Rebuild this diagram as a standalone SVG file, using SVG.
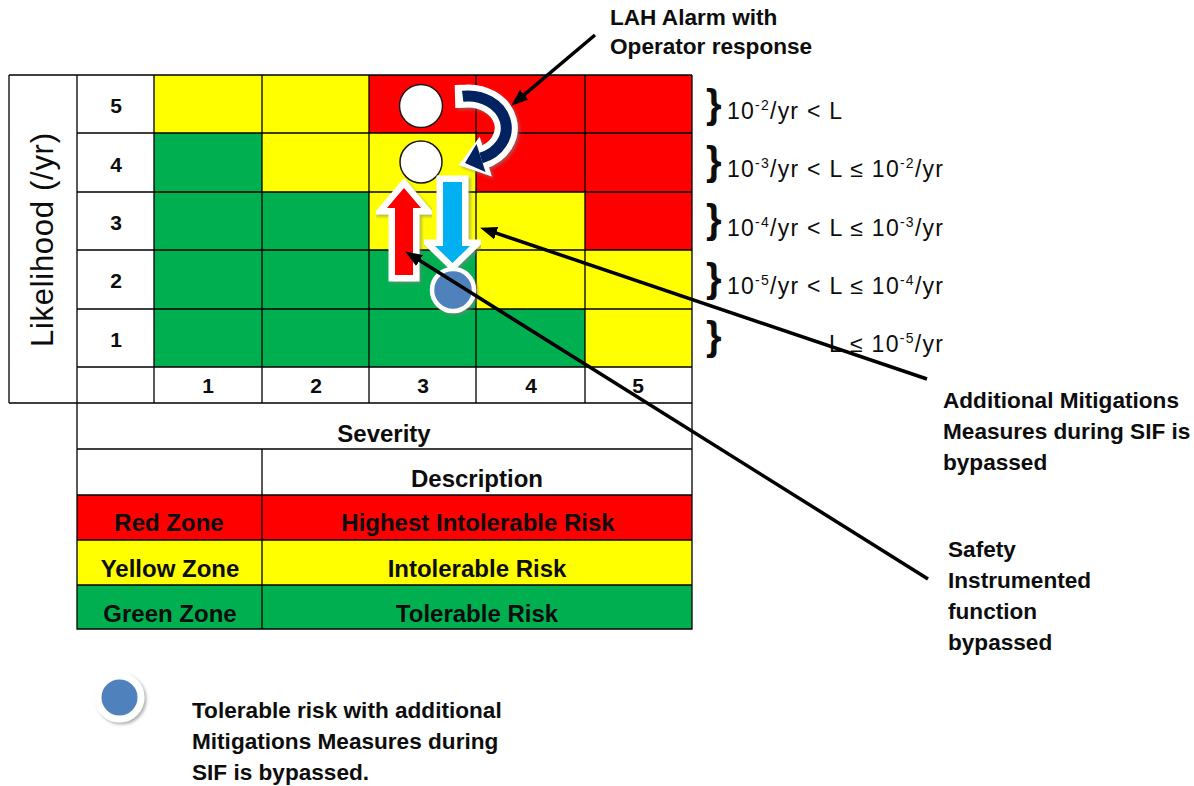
<svg xmlns="http://www.w3.org/2000/svg" width="1194" height="786" viewBox="0 0 1194 786">
<style>
.r{fill:#FF0000}.y{fill:#FFFF00}.g{fill:#00B050}
.ln{stroke:#000;stroke-width:1.3;fill:none}
.t{font-family:"Liberation Sans",Arial,sans-serif;fill:#0d0d0d}
.b{font-weight:bold}
.c{text-anchor:middle}
.num{font-family:"Liberation Sans",Arial,sans-serif;font-weight:bold;font-size:21px;text-anchor:middle;fill:#0d0d0d}
.tb{font-family:"Liberation Sans",Arial,sans-serif;font-weight:bold;font-size:24px;text-anchor:middle;fill:#0d0d0d}
.lab{font-family:"Liberation Sans",Arial,sans-serif;font-weight:bold;font-size:22.6px;fill:#0d0d0d}
.rl{font-family:"Liberation Sans",Arial,sans-serif;font-size:23px;fill:#0d0d0d}
.br{font-family:"Liberation Sans",Arial,sans-serif;font-size:40px;font-weight:bold;fill:#0d0d0d}
.leader{stroke:#000;stroke-width:3.5;fill:none;marker-end:url(#ah)}
.wo{stroke:#fff;stroke-width:13;stroke-linejoin:miter;stroke-miterlimit:10}
</style>
<defs>
<marker id="ah" markerUnits="userSpaceOnUse" markerWidth="17" markerHeight="13" refX="6" refY="6.5" orient="auto">
<path d="M0,0 L17,6.5 L0,13 z" fill="#000"/>
</marker>
<filter id="sh" x="-30%" y="-30%" width="160%" height="160%">
<feDropShadow dx="2" dy="2" stdDeviation="1.5" flood-color="#7f7f7f" flood-opacity="0.6"/>
</filter>
</defs>
<rect width="1194" height="786" fill="#fff"/>

<g id="risk-matrix">
<rect x="154" y="75" width="108" height="58" class="y"/>
<rect x="262" y="75" width="107" height="58" class="y"/>
<rect x="369" y="75" width="107" height="58" class="r"/>
<rect x="476" y="75" width="109" height="58" class="r"/>
<rect x="585" y="75" width="107" height="58" class="r"/>
<rect x="154" y="133" width="108" height="59" class="g"/>
<rect x="262" y="133" width="107" height="59" class="y"/>
<rect x="369" y="133" width="107" height="59" class="y"/>
<rect x="476" y="133" width="109" height="59" class="r"/>
<rect x="585" y="133" width="107" height="59" class="r"/>
<rect x="154" y="192" width="108" height="58" class="g"/>
<rect x="262" y="192" width="107" height="58" class="g"/>
<rect x="369" y="192" width="107" height="58" class="y"/>
<rect x="476" y="192" width="109" height="58" class="y"/>
<rect x="585" y="192" width="107" height="58" class="r"/>
<rect x="154" y="250" width="108" height="59" class="g"/>
<rect x="262" y="250" width="107" height="59" class="g"/>
<rect x="369" y="250" width="107" height="59" class="g"/>
<rect x="476" y="250" width="109" height="59" class="y"/>
<rect x="585" y="250" width="107" height="59" class="y"/>
<rect x="154" y="309" width="108" height="58" class="g"/>
<rect x="262" y="309" width="107" height="58" class="g"/>
<rect x="369" y="309" width="107" height="58" class="g"/>
<rect x="476" y="309" width="109" height="58" class="g"/>
<rect x="585" y="309" width="107" height="58" class="y"/>
<path class="ln" d="M9,75 H692 M77,133 H692 M77,192 H692 M77,250 H692 M77,309 H692 M77,367 H692 M9,403 H692 M9,75 V403 M77,75 V403 M154,75 V403 M262,75 V403 M369,75 V403 M476,75 V403 M585,75 V403 M692,75 V403"/>
<text class="num" x="116" y="113">5</text>
<text class="num" x="116" y="172">4</text>
<text class="num" x="116" y="230">3</text>
<text class="num" x="116" y="288">2</text>
<text class="num" x="116" y="347">1</text>
<text class="num" x="208" y="393">1</text>
<text class="num" x="316" y="393">2</text>
<text class="num" x="423" y="393">3</text>
<text class="num" x="531" y="393">4</text>
<text class="num" x="638" y="393">5</text>
<text class="t c" font-size="31" transform="translate(53,240) rotate(-90)" textLength="214">Likelihood (/yr)</text>
</g>

<g id="legend-table">
<rect x="77" y="495" width="615" height="45" class="r"/>
<rect x="77" y="540" width="615" height="45" class="y"/>
<rect x="77" y="585" width="615" height="44" class="g"/>
<path class="ln" d="M77,403 V629 H692 V403 M77,449 H692 M77,495 H692 M77,540 H692 M77,585 H692 M262,449 V629"/>
<text class="tb" x="384" y="442">Severity</text>
<text class="tb" x="477" y="487">Description</text>
<text class="tb" x="169" y="531">Red Zone</text>
<text class="tb" x="478" y="531">Highest Intolerable Risk</text>
<text class="tb" x="170" y="577">Yellow Zone</text>
<text class="tb" x="477" y="577">Intolerable Risk</text>
<text class="tb" x="170" y="622">Green Zone</text>
<text class="tb" x="477" y="622">Tolerable Risk</text>
</g>

<g id="likelihood-ranges">
<text class="br" x="706" y="118">}</text>
<text class="br" x="706" y="175">}</text>
<text class="br" x="706" y="233">}</text>
<text class="br" x="706" y="292">}</text>
<text class="br" x="706" y="350">}</text>
<text class="rl" x="727" y="119" textLength="115">10<tspan dy="-9" font-size="14">-2</tspan><tspan dy="9">/yr &lt; L</tspan></text>
<text class="rl" x="727" y="177" textLength="216">10<tspan dy="-9" font-size="14">-3</tspan><tspan dy="9">/yr &lt; L ≤ 10</tspan><tspan dy="-9" font-size="14">-2</tspan><tspan dy="9">/yr</tspan></text>
<text class="rl" x="727" y="236" textLength="216">10<tspan dy="-9" font-size="14">-4</tspan><tspan dy="9">/yr &lt; L ≤ 10</tspan><tspan dy="-9" font-size="14">-3</tspan><tspan dy="9">/yr</tspan></text>
<text class="rl" x="727" y="294" textLength="216">10<tspan dy="-9" font-size="14">-5</tspan><tspan dy="9">/yr &lt; L ≤ 10</tspan><tspan dy="-9" font-size="14">-4</tspan><tspan dy="9">/yr</tspan></text>
<text class="rl" x="829" y="352" textLength="114">L ≤ 10<tspan dy="-9" font-size="14">-5</tspan><tspan dy="9">/yr</tspan></text>
</g>

<g id="white-circle-5">
<circle cx="421" cy="106" r="21.5" fill="#fff" stroke="#1a1a1a" stroke-width="1.5"/>
</g>
<g id="white-circle-4">
<circle cx="421" cy="162" r="21" fill="#fff" stroke="#1a1a1a" stroke-width="1.5"/>
</g>

<g id="curved-arrow" filter="url(#sh)">
<path d="M455,96.5 L462.7,96.3 A38,32 0 0 1 481,158.1" stroke="#fff" stroke-width="23" fill="none"/>
<polygon points="484.2,168.6 477.8,147.6 466.7,162.5" fill="#fff" stroke="#fff" stroke-width="10" stroke-linejoin="miter"/>
<path d="M462.7,96.3 A38,32 0 0 1 481,158.1" stroke="#002060" stroke-width="11" fill="none"/>
<polygon points="485.5,172 476.5,144 465,163" fill="#002060"/>
</g>

<g id="red-arrow" filter="url(#sh)">
<polygon class="wo" points="395,275 395,208 387,208 404,188 421,208 413,208 413,275" fill="#fff"/>
<polygon points="395,275 395,208 387,208 404,188 421,208 413,208 413,275" fill="#FF0000"/>
</g>

<g id="blue-arrow" filter="url(#sh)">
<polygon class="wo" points="443,182 462,182 462,246 470,246 452.5,263 435,246 443,246" fill="#fff"/>
<polygon points="443,182 462,182 462,246 470,246 452.5,263 435,246 443,246" fill="#00B0F0"/>
</g>

<g id="blue-circle" filter="url(#sh)">
<circle cx="453" cy="290" r="21" fill="#4F81BD" stroke="#fff" stroke-width="4.5"/>
</g>

<g id="label-lah">
<text class="lab" x="610" y="25">LAH Alarm with</text>
<text class="lab" x="610" y="54">Operator response</text>
</g>

<g id="label-additional">
<text class="lab" x="943" y="408">Additional Mitigations</text>
<text class="lab" x="943" y="439">Measures during SIF is</text>
<text class="lab" x="943" y="470">bypassed</text>
</g>

<g id="label-safety">
<text class="lab" x="948" y="557">Safety</text>
<text class="lab" x="948" y="588">Instrumented</text>
<text class="lab" x="948" y="619">function</text>
<text class="lab" x="948" y="650">bypassed</text>
</g>

<g id="legend">
<circle cx="119.5" cy="697.5" r="21.5" fill="#4F81BD" stroke="#fff" stroke-width="7" filter="url(#sh)"/>
<text class="lab" x="192" y="718">Tolerable risk with additional</text>
<text class="lab" x="192" y="749">Mitigations Measures during</text>
<text class="lab" x="192" y="780">SIF is bypassed.</text>
</g>

<g id="connectors">
<line class="leader" x1="595" y1="35" x2="519.6" y2="98.6"/>
<line class="leader" x1="927" y1="379" x2="490.5" y2="231.2"/>
<line class="leader" x1="928" y1="579" x2="414.5" y2="257.3"/>
</g>
</svg>
